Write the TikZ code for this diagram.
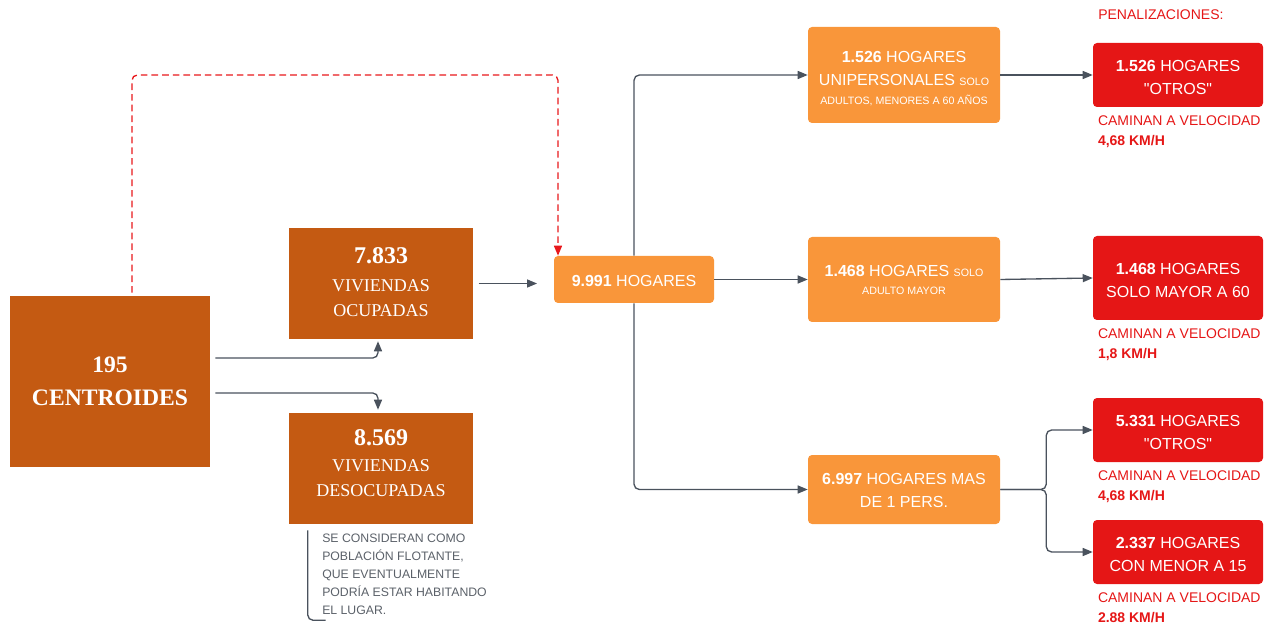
\documentclass[tikz,border=0pt]{standalone}
\usepackage{fontspec}
\setmainfont{Liberation Serif}
\newfontfamily\uisans{Liberation Sans}
\usetikzlibrary{arrows.meta}

\definecolor{brownbox}{HTML}{C45A12}
\definecolor{orangebox}{HTML}{F9963A}
\definecolor{redbox}{HTML}{E51616}
\definecolor{linkgray}{HTML}{4A525D}
\definecolor{notegray}{HTML}{5B6169}
\definecolor{dashred}{HTML}{E8181C}

\tikzset{
  sumbox/.style={fill=brownbox, text=white, align=center, inner sep=0pt,
    font=\fontsize{13.5}{18.75}\selectfont},
  hogbox/.style={fill=orangebox, rounded corners=3pt, text=white, align=center,
    inner sep=0pt, minimum width=144pt, font=\uisans\fontsize{12}{17}\selectfont},
  penbox/.style={fill=redbox, rounded corners=3pt, text=white, align=center,
    inner sep=0pt, minimum width=127.5pt, font=\uisans\fontsize{12}{17.25}\selectfont},
  redcap/.style={text=redbox, align=left, inner sep=0pt, anchor=north west,
    font=\uisans\fontsize{10.5}{15}\selectfont},
  tip/.style={-{Triangle[length=7.5pt,width=6pt]}},
  link/.style={draw=linkgray, line width=1pt, rounded corners=4pt, tip},
  weaklink/.style={draw=dashred, line width=1pt, dash pattern=on 5pt off 3pt,
    rounded corners=4pt, -{Triangle[length=7.5pt,width=6pt,fill=dashred]}}
}
% smaller type inside the household boxes
\newcommand{\smalltxt}[1]{{\fontsize{8}{10}\selectfont #1}}
% extra room above the first line, pushes a centred text block down
\newcommand{\lift}[1]{\rule{0pt}{\dimexpr 8.6pt+#1\relax}}
% extra room below the last line, pulls a centred text block up
\newcommand{\sink}[1]{\rule[-#1]{0pt}{0pt}}

\begin{document}
\begin{tikzpicture}[x=0.75pt, y=-0.75pt]
  \useasboundingbox (0,0) rectangle (1281,623);

  % dwelling totals
  \node[sumbox, minimum width=150pt, minimum height=128.25pt,
        font=\bfseries\fontsize{17.7}{24.75}\selectfont] (cen) at (110,381.5)
        {195\\CENTROIDES};
  \node[sumbox, minimum width=138pt, minimum height=83.25pt] (occ) at (381,283.5)
        {{\bfseries\fontsize{18}{20}\selectfont 7.833}\\[2pt]VIVIENDAS\\OCUPADAS\sink{2pt}};
  \node[sumbox, minimum width=138pt, minimum height=83.25pt] (des) at (381,468.5)
        {{\bfseries\fontsize{18}{20}\selectfont 8.569}\\[1pt]VIVIENDAS\\DESOCUPADAS\sink{8pt}};

  % households
  \node[hogbox, minimum width=120pt, minimum height=35.25pt] (hog) at (634,279.5)
        {\lift{1.5pt}\textbf{9.991} HOGARES};
  \node[hogbox, minimum height=72pt] (uni) at (904,75)
        {\lift{5pt}\textbf{1.526} HOGARES\\UNIPERSONALES \smalltxt{SOLO}\\[-2.5pt]
         \smalltxt{ADULTOS, MENORES A 60 AÑOS}};
  \node[hogbox, minimum height=63.75pt] (may) at (904,279.5)
        {\lift{1pt}\textbf{1.468} HOGARES \smalltxt{SOLO}\\[-3.5pt]\smalltxt{ADULTO MAYOR}};
  \node[hogbox, minimum height=51.75pt] (mas) at (904,489.5)
        {\lift{1pt}\textbf{6.997} HOGARES MAS\\DE 1 PERS.};

  % penalties
  \node[redcap] (pen) at (1098,9.5) {PENALIZACIONES:};
  \node[penbox, minimum height=48pt] (r1) at (1178,75)
        {\lift{3pt}\textbf{1.526} HOGARES\\"OTROS"};
  \node[penbox, minimum height=63pt] (r2) at (1178,278)
        {\lift{3pt}\textbf{1.468} HOGARES\\SOLO MAYOR A 60};
  \node[penbox, minimum height=48pt] (r3) at (1178,430)
        {\lift{3pt}\textbf{5.331} HOGARES\\"OTROS"};
  \node[penbox, minimum height=48pt] (r4) at (1178,552)
        {\lift{3pt}\textbf{2.337} HOGARES\\CON MENOR A 15};

  \node[redcap] (c1) at ([xshift=3.75pt,yshift=-5.9pt]r1.south west)
        {CAMINAN A VELOCIDAD\\\textbf{4,68 KM/H}};
  \node[redcap] (c2) at ([xshift=3.75pt,yshift=-6.5pt]r2.south west)
        {CAMINAN A VELOCIDAD\\\textbf{1,8 KM/H}};
  \node[redcap] (c3) at ([xshift=3.75pt,yshift=-6.5pt]r3.south west)
        {CAMINAN A VELOCIDAD\\\textbf{4,68 KM/H}};
  \node[redcap] (c4) at ([xshift=3.75pt,yshift=-5.9pt]r4.south west)
        {CAMINAN A VELOCIDAD\\\textbf{2.88 KM/H}};

  % note on vacant dwellings
  \node[anchor=north west, inner sep=0pt, align=left, text=notegray,
        font=\uisans\fontsize{9.2}{13.5}\selectfont] (nota) at (322,533.5)
        {SE CONSIDERAN COMO\\POBLACIÓN FLOTANTE,\\QUE EVENTUALMENTE\\
         PODRÍA ESTAR HABITANDO\\EL LUGAR.};
  \draw[linkgray, line width=1pt, rounded corners=4pt]
        ([xshift=14.25pt,yshift=-4.5pt]des.south west) -- ++(0,90) -- ++(18,0);

  % connectors
  \draw[weaklink] ([xshift=16.5pt,yshift=2.25pt]cen.north) |- (558,75)
        -- ([xshift=-57pt]hog.north);
  \draw[link] ([xshift=3.75pt,yshift=17.6pt]cen.east)
        -| ([xshift=-2.25pt,yshift=-1.5pt]occ.south);
  \draw[link] ([xshift=3.75pt,yshift=-8.6pt]cen.east)
        -| ([xshift=-2.25pt,yshift=2.25pt]des.north);
  \coordinate (occhog) at (occ.east -| hog.west);
  \draw[link] ([xshift=4pt]occ.east) -- ([xshift=-12.5pt]occhog);
  \draw[link] (hog.north) |- (uni.west);
  \draw[link] (hog.east) -- (may.west);
  \draw[link] (hog.south) |- (mas.west);
  \draw[link] (uni.east) -- (r1.west);
  \draw[link] (may.east) -- (r2.west);
  \draw[link] (mas.east) -- ++(46,0) |- (r3.west);
  \draw[link] (mas.east) -- ++(46,0) |- (r4.west);
\end{tikzpicture}
\end{document}
